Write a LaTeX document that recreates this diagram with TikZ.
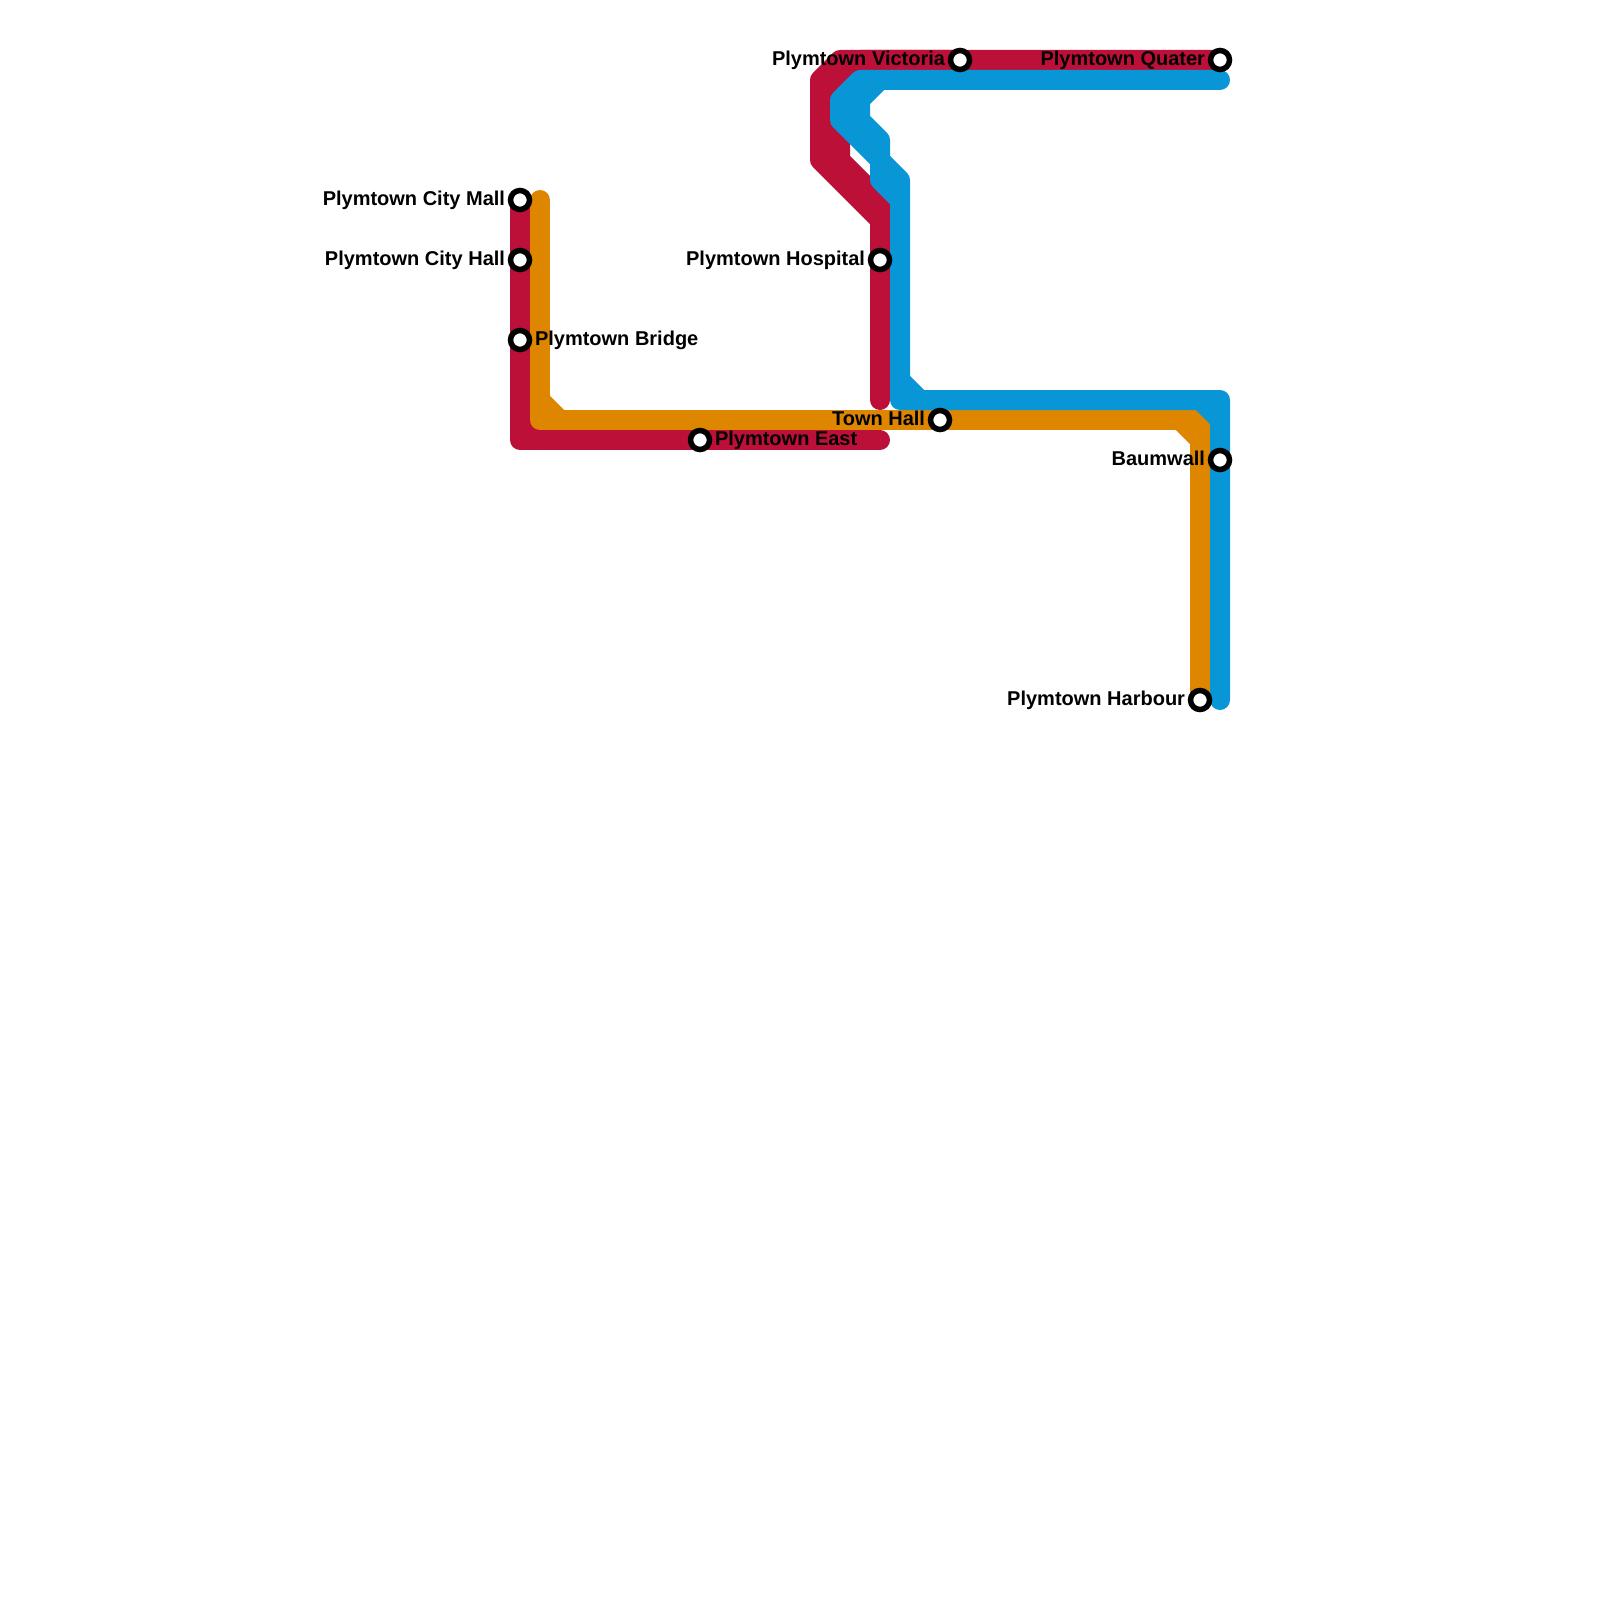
\documentclass[tikz,border=0pt]{standalone}
\usepackage{fontspec}
\setmainfont{Liberation Sans}
\usetikzlibrary{backgrounds}
\definecolor{redline}{HTML}{BD1038}
\definecolor{orangeline}{HTML}{DF8600}
\definecolor{blueline}{HTML}{0896D7}
\tikzset{
  metro/.style={line width=10pt,line cap=round,line join=round},
  redmetro/.style={metro,draw=redline},
  orangemetro/.style={metro,draw=orangeline},
  bluemetro/.style={metro,draw=blueline},
  station/.style={circle,draw=black,fill=white,line width=2.75pt,minimum size=9.5pt,inner sep=0pt,outer sep=0pt},
  lbl/.style={font=\bfseries\fontsize{10pt}{12pt}\selectfont,text=black,inner sep=0pt,outer sep=0pt},
  lblL/.style={lbl,anchor=base east},
  lblR/.style={lbl,anchor=base west}
}
\begin{document}
\begin{tikzpicture}[x=0.5pt,y=-0.5pt]
\useasboundingbox (0,0) rectangle (1600,1600);
% stations
\node[station] (mall) at (520,200) {};
\node[station] (hall) at (520,260) {};
\node[station] (bridge) at (520,340) {};
\node[station] (east) at (700,440) {};
\node[station] (hospital) at (880,260) {};
\node[station] (town) at (940,420) {};
\node[station] (victoria) at (960,60) {};
\node[station] (quater) at (1220,60) {};
\node[station] (baumwall) at (1220,460) {};
\node[station] (harbour) at (1200,700) {};
% line ends
\coordinate (redend) at (880,400);
\coordinate (redeast) at (880,440);
\coordinate (orangestart) at (540,200);
\coordinate (bluetop) at (1220,80);
\coordinate (blueend) at (1220,700);
% labels
\node[lblL] (lmall) at (505,205.5) {Plymtown City Mall};
\node[lblL] (lhall) at (505,265.5) {Plymtown City Hall};
\node[lblR] (lbridge) at (535,345.5) {Plymtown Bridge};
\node[lblR] (least) at (715,445.5) {Plymtown East};
\node[lblL] (lhospital) at (865,265.5) {Plymtown Hospital};
\node[lblL] (ltown) at (925,425.5) {Town Hall};
\node[lblL] (lvictoria) at (945,65.5) {Plymtown Victoria};
\node[lblL] (lquater) at (1205,65.5) {Plymtown Quater};
\node[lblL] (lbaumwall) at (1205,465.5) {Baumwall};
\node[lblL] (lharbour) at (1185,705.5) {Plymtown Harbour};
\begin{scope}[on background layer]
% red
\draw[redmetro] (quater.center) -- (victoria.center) -- (840,60) -- (820,80) -- (820,160) -- (880,220) -- (hospital.center) -- (redend);
\draw[redmetro] (victoria.center) -- (860,60) -- (840,80) -- (840,160) -- (880,200) -- (880,220);
\draw[redmetro] (mall.center) -- (hall.center) -- (bridge.center) -- (520,440) -- (east.center) -- (redeast);
\draw[redmetro] (520,420) -- (540,440);
% orange
\draw[orangemetro] (orangestart) -- (540,420) -- (town.center) -- (1200,420) -- (harbour.center);
\draw[orangemetro] (540,400) -- (560,420);
\draw[orangemetro] (1180,420) -- (1200,440);
% blue
\draw[bluemetro] (bluetop) -- (880,80) -- (860,100) -- (860,120) -- (880,140) -- (880,180) -- (900,200) -- (900,400) -- (1220,400) -- (baumwall.center) -- (blueend);
\draw[bluemetro] (880,80) -- (860,80) -- (840,100) -- (840,120) -- (880,160) -- (900,180) -- (900,200);
\draw[bluemetro] (900,380) -- (920,400);
\draw[bluemetro] (1200,400) -- (1220,420);
\end{scope}
\end{tikzpicture}
\end{document}
